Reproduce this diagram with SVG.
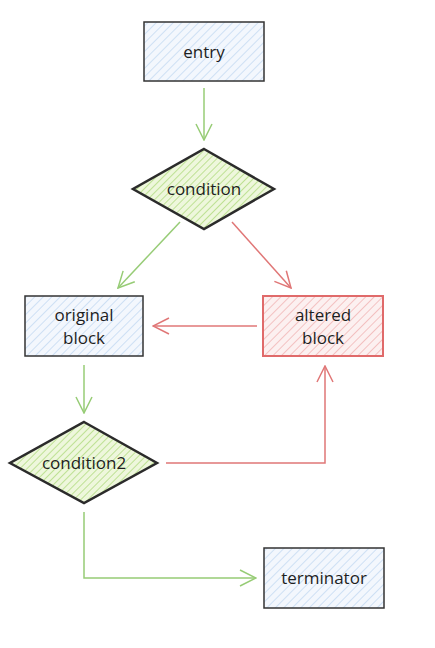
<svg xmlns="http://www.w3.org/2000/svg" width="435" height="648" viewBox="0 0 435 648">
<defs>
<pattern id="hb" width="6" height="6" patternUnits="userSpaceOnUse" patternTransform="rotate(45)">
<rect width="6" height="6" fill="#f3f7fd"/>
<line x1="0" y1="0" x2="0" y2="6" stroke="#c5daf2" stroke-width="1.6"/>
</pattern>
<pattern id="hg" width="5" height="5" patternUnits="userSpaceOnUse" patternTransform="rotate(45)">
<rect width="5" height="5" fill="#eef7dc"/>
<line x1="0" y1="0" x2="0" y2="5" stroke="#b9df8c" stroke-width="1.8"/>
</pattern>
<pattern id="hr" width="6" height="6" patternUnits="userSpaceOnUse" patternTransform="rotate(45)">
<rect width="6" height="6" fill="#fcf0f0"/>
<line x1="0" y1="0" x2="0" y2="6" stroke="#f3bcbc" stroke-width="1.8"/>
</pattern>
<marker id="ag" viewBox="0 0 20 20" refX="19" refY="10" markerWidth="20" markerHeight="20" markerUnits="userSpaceOnUse" orient="auto">
<path d="M3 2 L19 10 L3 18" fill="none" stroke="#97cc76" stroke-width="1.5"/>
</marker>
<marker id="ar" viewBox="0 0 20 20" refX="19" refY="10" markerWidth="20" markerHeight="20" markerUnits="userSpaceOnUse" orient="auto">
<path d="M3 2 L19 10 L3 18" fill="none" stroke="#e07777" stroke-width="1.5"/>
</marker>
</defs>
<style>
.box{stroke:#333;stroke-width:1.5}
.dia{stroke:#2b2b2b;stroke-width:2.5;stroke-linejoin:miter}
.red{stroke:#e06a6a;stroke-width:2}
.lbl{font-family:"Open Sans","Liberation Sans",sans-serif;font-size:17px;fill:#1e1e1e;text-anchor:middle}
.cg{fill:none;stroke:#97cc76;stroke-width:1.5}
.cr{fill:none;stroke:#e07777;stroke-width:1.5}
</style>
<g id="connectors">
<path class="cg" d="M204 88 L204 140" marker-end="url(#ag)"/>
<path class="cg" d="M180 222 L118 288" marker-end="url(#ag)"/>
<path class="cr" d="M232 222 L291 288" marker-end="url(#ar)"/>
<path class="cr" d="M257 326 L153 326" marker-end="url(#ar)"/>
<path class="cg" d="M84 365 L84 413" marker-end="url(#ag)"/>
<path class="cr" d="M166 463 L325 463 L325 366" marker-end="url(#ar)"/>
<path class="cg" d="M84 512 L84 578 L256 578" marker-end="url(#ag)"/>
</g>
<g id="entry">
<rect class="box" x="144" y="22" width="120" height="59" fill="url(#hb)"/>
<text class="lbl" x="204" y="58">entry</text>
</g>
<g id="condition">
<polygon class="dia" points="204,149 274,189 204,229 133,189" fill="url(#hg)"/>
<text class="lbl" x="204" y="195">condition</text>
</g>
<g id="original">
<rect class="box" x="25" y="296" width="118" height="60" fill="url(#hb)"/>
<text class="lbl" x="84" y="321">original</text>
<text class="lbl" x="84" y="344">block</text>
</g>
<g id="altered">
<rect class="red" x="263" y="296" width="120" height="60" fill="url(#hr)"/>
<text class="lbl" x="323" y="321">altered</text>
<text class="lbl" x="323" y="344">block</text>
</g>
<g id="condition2">
<polygon class="dia" points="84,422 157,463 84,503 10,463" fill="url(#hg)"/>
<text class="lbl" x="84" y="469">condition2</text>
</g>
<g id="terminator">
<rect class="box" x="264" y="548" width="120" height="60" fill="url(#hb)"/>
<text class="lbl" x="324" y="584">terminator</text>
</g>
</svg>
